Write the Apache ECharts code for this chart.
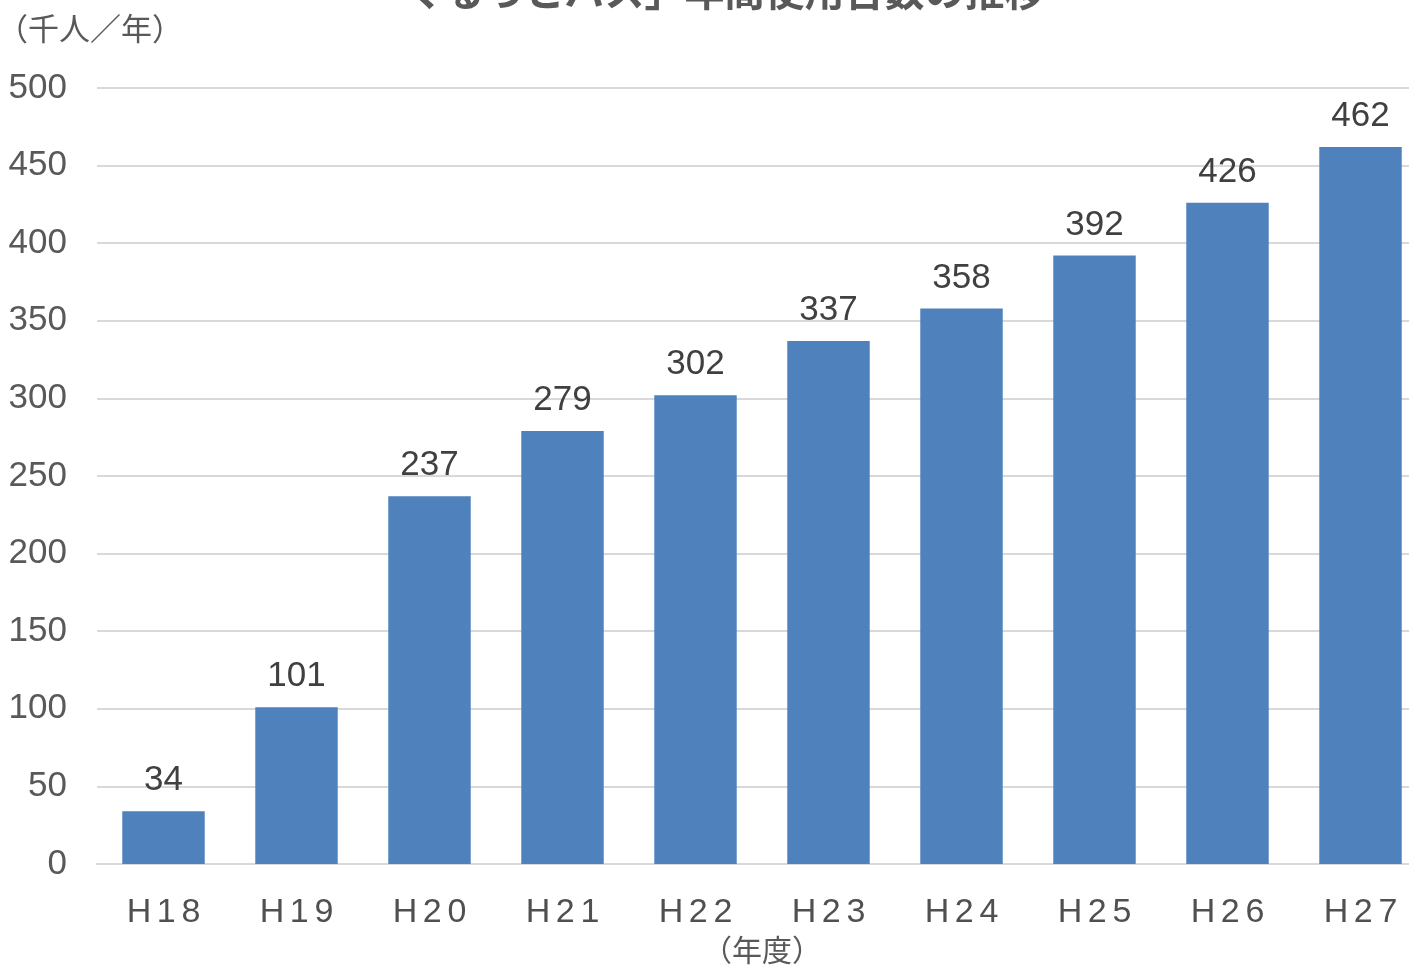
<!DOCTYPE html>
<html>
<head>
<meta charset="utf-8">
<script src="https://cdn.jsdelivr.net/npm/echarts@6/dist/echarts.min.js"></script>
<style>
html,body{margin:0;padding:0;background:#fff;}
#chart{width:1409px;height:965px;}
</style>
</head>
<body>
<div id="chart"></div>
<script>
const titleText = '「ぐるっとバス」年間使用台数の推移';
const categories = ['H18','H19','H20','H21','H22','H23','H24','H25','H26','H27'];
const values = [34, 101, 237, 279, 302, 337, 358, 392, 426, 462];
const yTicks = {min: 0, max: 500, interval: 50};
const yName = '（千人／年）';
const xName = '（年度）';

const chart = echarts.init(document.getElementById('chart'));
const spaced = s => s.split('').join('\u200A\u200A');
chart.setOption({
  animation: false,
  backgroundColor: '#ffffff',
  title: {
    text: titleText,
    left: 'center',
    top: -34,
    textStyle: {fontFamily: 'Noto Sans CJK JP', fontSize: 40, fontWeight: 'bold', color: '#595959'}
  },
  grid: {left: 97, right: -18, top: 88, bottom: 101, containLabel: false, outerBoundsMode: 'none'},
  xAxis: {
    type: 'category',
    data: categories,
    name: xName,
    nameLocation: 'middle',
    nameGap: 66,
    nameTextStyle: {fontFamily: 'Noto Sans CJK JP', fontSize: 30, color: '#595959'},
    axisLine: {show: true, lineStyle: {color: '#D9D9D9', width: 2}},
    axisTick: {show: false},
    axisLabel: {
      margin: 32,
      fontFamily: 'Liberation Sans',
      fontSize: 34,
      color: '#505050',
      formatter: v => spaced(v)
    }
  },
  yAxis: {
    type: 'value',
    min: yTicks.min,
    max: yTicks.max,
    interval: yTicks.interval,
    name: yName,
    nameLocation: 'end',
    nameGap: 0,
    nameTextStyle: {
      fontFamily: 'Noto Sans CJK JP', fontSize: 31, color: '#595959',
      align: 'left', verticalAlign: 'bottom', padding: [0, 0, 44, -100]
    },
    axisLine: {show: false},
    axisTick: {show: false},
    axisLabel: {
      margin: 30,
      fontFamily: 'Liberation Sans',
      fontSize: 35,
      color: '#595959'
    },
    splitLine: {lineStyle: {color: '#D9D9D9', width: 2}}
  },
  series: [{
    type: 'bar',
    data: values,
    barCategoryGap: '38%',
    itemStyle: {color: '#4F81BD'},
    label: {
      show: true,
      position: 'top',
      distance: 13,
      fontFamily: 'Liberation Sans',
      fontSize: 35,
      color: '#404040'
    }
  }]
});
</script>
</body>
</html>
